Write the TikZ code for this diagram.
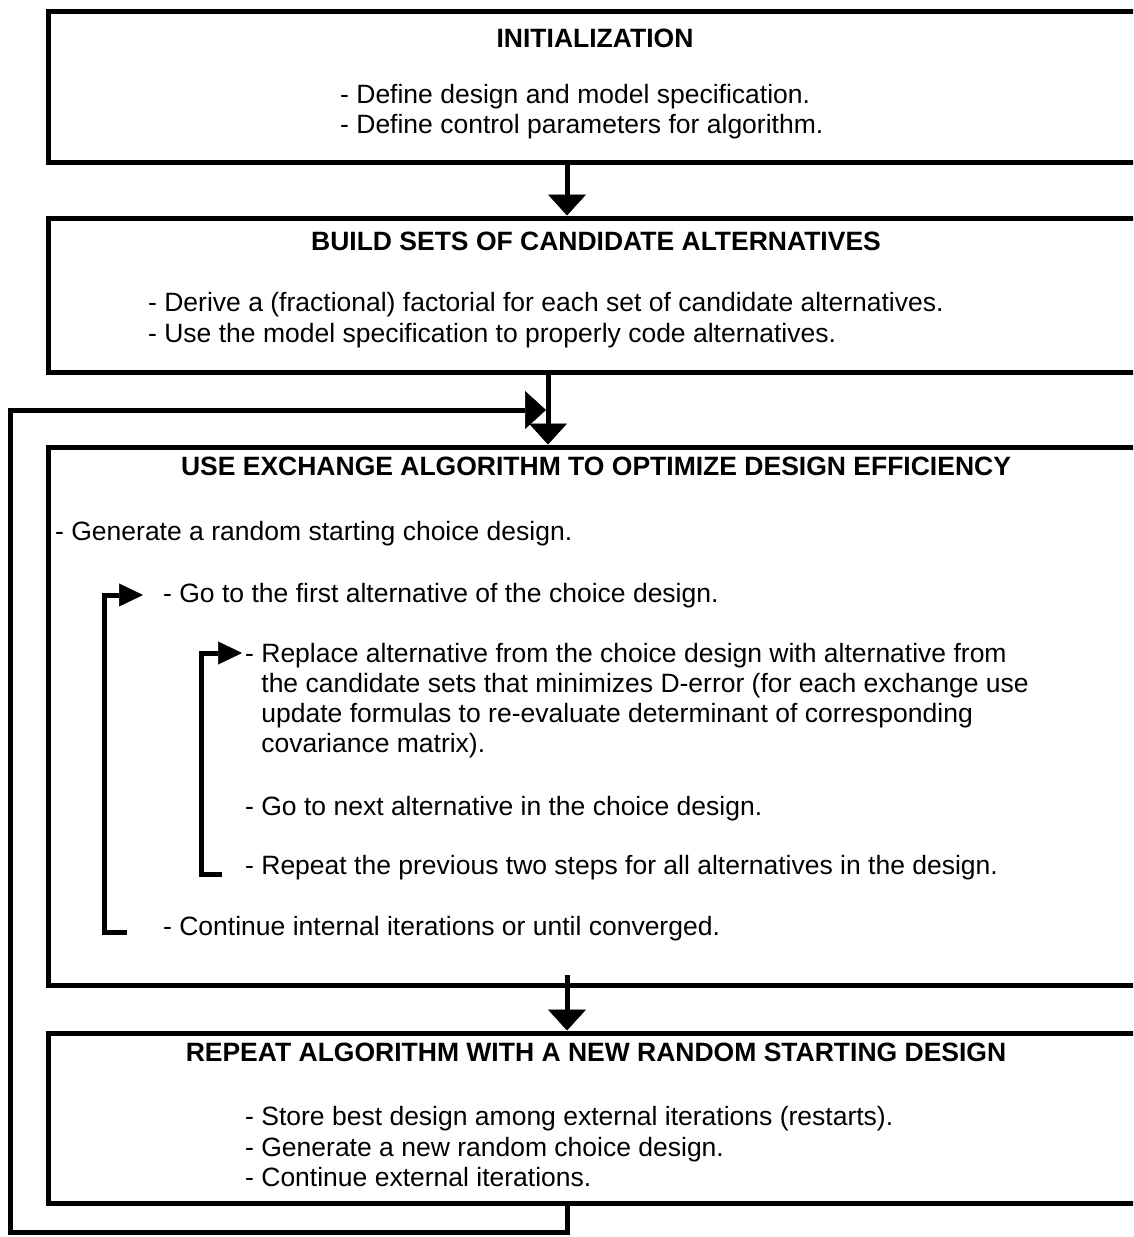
\documentclass[tikz,border=0pt]{standalone}
\usepackage{fontspec}
\setmainfont{Liberation Sans}
\usetikzlibrary{arrows.meta}
\begin{document}
\begin{tikzpicture}[x=1pt,y=-1pt,
  every node/.style={font=\fontsize{26.5}{30}\selectfont},
  box/.style={draw, line width=5pt, minimum width=1094pt, inner sep=0pt},
  ttl/.style={font=\fontsize{26.5}{30}\selectfont\bfseries, anchor=base, inner sep=0pt},
  txt/.style={anchor=base west, inner sep=0pt},
  conn/.style={line width=5pt},
  bigtip/.style={-{Triangle[width=38pt,length=21pt,line width=0.5pt]}},
  smalltip/.style={-{Triangle[width=23pt,length=24pt,line width=0.5pt]}}]
\useasboundingbox (0,0) rectangle (1133,1237);
\clip (0,0) rectangle (1133,1237);

% boxes
\node[box, minimum height=151pt] (b1) at (595,86.5) {};
\node[box, minimum height=154pt] (b2) at (595,295) {};
\node[box, minimum height=538pt] (b3) at (595,716) {};
\node[box, minimum height=170pt] (b4) at (595,1118) {};

% box 1
\node[ttl] (t1) at (595,47) {INITIALIZATION};
\node[txt] (l11) at (340,103) {- Define design and model specification.};
\node[txt] (l12) at (340,133) {- Define control parameters for algorithm.};

% box 2
\node[ttl] (t2) at (596,250) {BUILD SETS OF CANDIDATE ALTERNATIVES};
\node[txt] (l21) at (148,311) {- Derive a (fractional) factorial for each set of candidate alternatives.};
\node[txt] (l22) at (148,342) {- Use the model specification to properly code alternatives.};

% box 3
\node[ttl] (t3) at (596,475) {USE EXCHANGE ALGORITHM TO OPTIMIZE DESIGN EFFICIENCY};
\node[txt] (l31) at (55,540) {- Generate a random starting choice design.};
\node[txt] (l32) at (163,602) {- Go to the first alternative of the choice design.};
\node[txt] (l33) at (245,662) {- Replace alternative from the choice design with alternative from};
\node[txt] (l34) at (245,692) {\phantom{- }the candidate sets that minimizes D-error (for each exchange use};
\node[txt] (l35) at (245,722) {\phantom{- }update formulas to re-evaluate determinant of corresponding};
\node[txt] (l36) at (245,752) {\phantom{- }covariance matrix).};
\node[txt] (l37) at (245,815) {- Go to next alternative in the choice design.};
\node[txt] (l38) at (245,874) {- Repeat the previous two steps for all alternatives in the design.};
\node[txt] (l39) at (163,935) {- Continue internal iterations or until converged.};

% box 4
\node[ttl] (t4) at (596,1061) {REPEAT ALGORITHM WITH A NEW RANDOM STARTING DESIGN};
\node[txt] (l41) at (245,1125) {- Store best design among external iterations (restarts).};
\node[txt] (l42) at (245,1156) {- Generate a new random choice design.};
\node[txt] (l43) at (245,1186) {- Continue external iterations.};

% helper coordinates
\coordinate (xa) at (567,0);
\coordinate (xb) at (548,0);
\coordinate (a3s) at (567,975);
\coordinate (fb1) at (567,1232);
\coordinate (fb2) at (10,1232);
\coordinate (fb3) at (10,410);
\coordinate (fb4) at (546,410);
\coordinate (o1) at (127,932);
\coordinate (o2) at (104,932);
\coordinate (o3) at (104,595);
\coordinate (o4) at (143,595);
\coordinate (i1) at (222,874);
\coordinate (i2) at (201,874);
\coordinate (i3) at (201,653);
\coordinate (i4) at (242,653);

% main connectors
\draw[conn, bigtip] (xa |- b1.south) -- (xa |- b2.north);
\draw[conn, bigtip] (xb |- b2.south) -- (xb |- b3.north);
\draw[conn, bigtip] (a3s) -- (xa |- b4.north);
\draw[conn, bigtip] (xa |- b4.south) -- (fb1) -- (fb2) -- (fb3) -- (fb4);

% inner loops
\draw[conn, smalltip] (o1) -- (o2) -- (o3) -- (o4);
\draw[conn, smalltip] (i1) -- (i2) -- (i3) -- (i4);
\end{tikzpicture}
\end{document}
